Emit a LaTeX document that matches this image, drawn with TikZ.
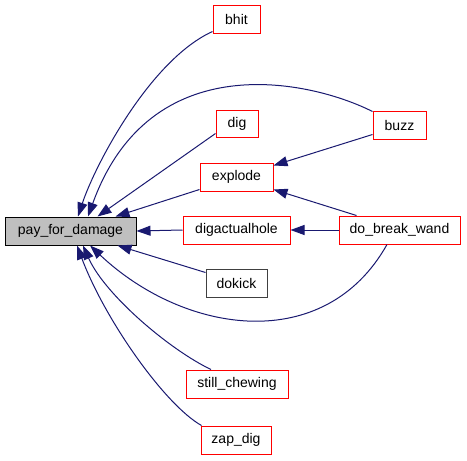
\documentclass[tikz,border=0pt]{standalone}
\usepackage{fontspec}
\setmainfont{Liberation Sans}
\usetikzlibrary{arrows.meta}
\definecolor{callblue}{HTML}{191970}
\tikzset{fn/.style={draw=red,fill=white,line width=1pt,minimum height=28pt,inner sep=0pt,font=\fontsize{14}{16}\selectfont},root/.style={fn,draw=black,fill=black!25},plainfn/.style={fn,draw=black!75},edge/.style={-{Triangle[length=14pt,width=10pt]},draw=callblue,line width=1pt}}

\begin{document}
\begin{tikzpicture}[x=1pt,y=-1pt]
\useasboundingbox (0,0) rectangle (467,461);
\node[root,minimum width=131pt] (pay) at (70.5,231) {pay\_for\_damage};
\node[fn,minimum width=47pt] (bhit) at (236.5,19) {bhit};
\node[fn,minimum width=53pt] (buzz) at (399.5,125) {buzz};
\node[fn,minimum width=42pt,minimum height=27pt] (dig) at (237,123.5) {dig};
\node[fn,minimum width=73pt] (explode) at (236.5,177) {explode};
\node[fn,minimum width=107pt] (digactualhole) at (236.5,230) {digactualhole};
\node[fn,minimum width=121pt] (do_break_wand) at (399.5,230) {do\_break\_wand};
\node[plainfn,minimum width=61pt] (dokick) at (236.5,283) {dokick};
\node[fn,minimum width=102pt] (still_chewing) at (237,384) {still\_chewing};
\node[fn,minimum width=70pt] (zap_dig) at (236,440) {zap\_dig};
\draw[edge] ([yshift=2pt]bhit.south west) .. controls (150,60) and (95,165) .. ([xshift=7.5pt]pay.north);
\draw[edge] ([yshift=-1pt]buzz.north west) .. controls (310,80) and (150,45) .. ([xshift=17.5pt]pay.north);
\draw[edge] ([yshift=4pt]dig.south west) -- ([xshift=27pt]pay.north);
\draw[edge] ([yshift=2pt]explode.south west) -- ([xshift=45pt]pay.north);
\draw[edge] (digactualhole.west) -- (pay.east);
\draw[edge] ([yshift=-4pt]dokick.north west) -- ([xshift=47pt]pay.south);
\draw[edge] ([xshift=-12.5pt]do_break_wand.south) .. controls (325,355) and (185,335) .. ([xshift=19.5pt]pay.south);
\draw[edge] ([xshift=-26pt]still_chewing.north) .. controls (170,350) and (105,295) .. ([xshift=12.5pt]pay.south);
\draw[edge] ([xshift=1pt]zap_dig.north west) .. controls (165,405) and (105,320) .. ([xshift=6.5pt]pay.south);
\draw[edge] ([yshift=5pt]buzz.south west) -- ([yshift=-3pt]explode.north east);
\draw[edge] ([xshift=-43pt]do_break_wand.north) -- ([yshift=2pt]explode.south east);
\draw[edge] (do_break_wand.west) -- (digactualhole.east);
\end{tikzpicture}
\end{document}
